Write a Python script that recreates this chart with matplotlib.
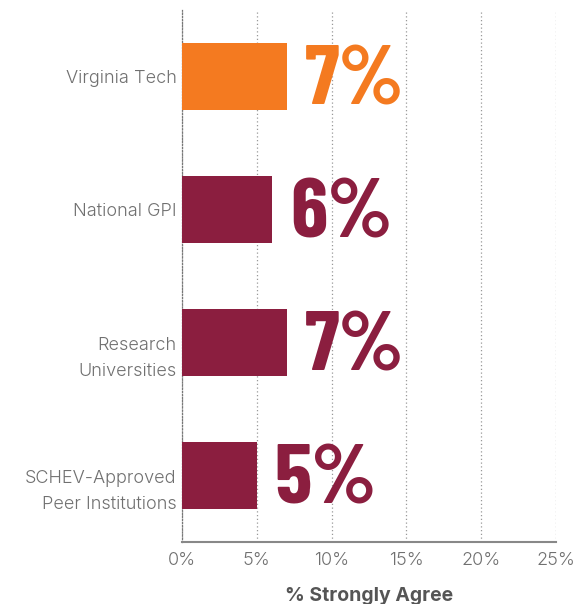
import matplotlib.pyplot as plt
from matplotlib.transforms import ScaledTranslation
import numpy as np

institutions = ['Virginia Tech', 'National GPI', 'Research\nUniversities',
                'SCHEV-Approved\nPeer Institutions']
pct_strongly_agree = [7, 6, 7, 5]
bar_colors = ['#F47A20', '#8B1E3F', '#8B1E3F', '#8B1E3F']
xticks = [0, 5, 10, 15, 20, 25]

fig = plt.figure(figsize=(5.76, 6.04), dpi=100)
ax = fig.add_axes([0.316, 0.1026, 0.649, 0.8808])

y = np.arange(len(institutions))
ax.barh(y, pct_strongly_agree, height=0.5, color=bar_colors, zorder=3)

for yi, v, c in zip(y, pct_strongly_agree, bar_colors):
    ax.annotate(f'{v}%', (v, yi), xytext=(13, -5), textcoords='offset points',
                ha='left', va='center', color=c, fontsize=61,
                family='Barlow Condensed', weight='bold', zorder=4)

ax.set_xlim(0, 25)
ax.set_ylim(3.5, -0.5)
ax.set_xticks(xticks)
ax.set_xticklabels([f'{t}%' for t in xticks])
ax.set_yticks(y)
ax.set_yticklabels(institutions)

ax.tick_params(length=0, labelsize=13, labelcolor='#707070')
ax.tick_params(axis='y', pad=4)
ax.tick_params(axis='x', pad=7)
for t in ax.get_xticklabels() + ax.get_yticklabels():
    t.set_family('Inter')
    t.set_weight(300)

# two-line labels sit a little lower than the bar centre in the original
shift_down = ScaledTranslation(0, -0.09, fig.dpi_scale_trans)
for t in ax.get_yticklabels():
    t.set_multialignment('right')
    if '\n' in t.get_text():
        t.set_linespacing(1.75)
        t.set_transform(t.get_transform() + shift_down)

ax.grid(axis='x', linestyle=(0, (1, 2)), color='#999999', linewidth=0.9, zorder=0)
for s in ['top', 'right']:
    ax.spines[s].set_visible(False)
ax.spines['left'].set_linestyle((0, (1, 1.5)))
ax.spines['left'].set_color('#777777')
ax.spines['left'].set_linewidth(0.9)
ax.spines['bottom'].set_color('#888888')
ax.spines['bottom'].set_linewidth(1.5)

ax.set_xlabel('% Strongly Agree', fontsize=14, weight='bold', color='#555555',
              family='Inter', labelpad=13)

fig.savefig('out.png', dpi=100)
